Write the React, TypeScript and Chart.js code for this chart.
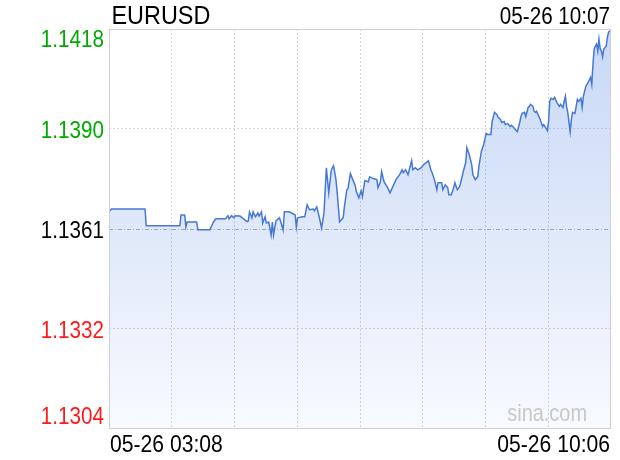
import React, { useEffect, useRef } from 'react';
import { Chart, registerables } from 'chart.js';

Chart.register(...registerables);

const symbolName = 'EURUSD';
const updateTime = '05-26 10:07';
const watermark = 'sina.com';

// minutes since 05-26 03:08
const minutes = [
  0, 2, 30, 31, 59, 60, 63, 64, 65, 73, 74, 84, 87, 89, 97, 99, 100, 102, 104, 105,
  109, 111, 115, 116, 117, 119, 120, 122, 124, 125, 127, 128, 130, 131, 133, 135, 136, 137, 139, 142,
  145, 146, 150, 155, 156, 157, 161, 163, 165, 167, 170, 171, 173, 175, 177, 179, 181, 183, 185, 186,
  187, 189, 190, 192, 195, 196, 198, 199, 201, 203, 205, 206, 208, 210, 211, 213, 216, 217, 220, 223,
  224, 226, 227, 229, 232, 234, 237, 239, 242, 244, 245, 247, 249, 252, 253, 255, 257, 260, 262, 266,
  268, 269, 271, 273, 274, 277, 278, 280, 282, 283, 285, 287, 288, 290, 292, 293, 295, 297, 298, 300,
  302, 303, 305, 307, 308, 310, 312, 314, 315, 318, 319, 321, 323, 324, 326, 327, 329, 330, 332, 334,
  335, 337, 339, 340, 342, 343, 344, 346, 347, 349, 350, 351, 353, 354, 355, 356, 358, 359, 361, 362,
  364, 365, 366, 367, 368, 370, 371, 373, 375, 376, 378, 379, 380, 381, 382, 384, 385, 386, 388, 389,
  390, 391, 393, 394, 395, 397, 398, 399, 401, 402, 403, 404, 405, 406, 407, 408, 409, 410, 411, 412,
  414, 415, 416, 418,
];

const prices = [
  1.13661, 1.13669, 1.13669, 1.13621, 1.13621, 1.13652, 1.13652, 1.13618, 1.13632, 1.13632,
  1.1361, 1.1361, 1.13632, 1.13641, 1.13641, 1.1365, 1.13641, 1.1365, 1.13644, 1.1365,
  1.13649, 1.13644, 1.13633, 1.13635, 1.13661, 1.13644, 1.13661, 1.13647, 1.13658, 1.13649,
  1.13661, 1.13629, 1.13647, 1.13629, 1.13632, 1.13595, 1.13632, 1.13595, 1.13635, 1.13644,
  1.13609, 1.13661, 1.13661, 1.13652, 1.13618, 1.13644, 1.13647, 1.13647, 1.13681, 1.13667,
  1.13669, 1.13664, 1.13675, 1.13647, 1.13615, 1.13658, 1.13787, 1.13715, 1.13778, 1.13787,
  1.13793, 1.13753, 1.13715, 1.13632, 1.13644, 1.13675, 1.13724, 1.13727, 1.1377, 1.13753,
  1.13736, 1.13718, 1.13701, 1.13721, 1.13704, 1.1375, 1.13747, 1.13761, 1.13756, 1.13753,
  1.1373, 1.13747, 1.13776, 1.13747, 1.1373, 1.13715, 1.13738, 1.13753, 1.13767, 1.13781,
  1.13773, 1.13781, 1.13767, 1.13807, 1.13781, 1.13787, 1.13781, 1.13787, 1.13796, 1.13807,
  1.13781, 1.13773, 1.13753, 1.13724, 1.13744, 1.13744, 1.13724, 1.13738, 1.1373, 1.1371,
  1.1371, 1.1373, 1.13744, 1.13724, 1.13733, 1.13747, 1.13776, 1.13801, 1.13844, 1.13824,
  1.13796, 1.13767, 1.13753, 1.13761, 1.1379, 1.13833, 1.13853, 1.13885, 1.13882, 1.13882,
  1.13919, 1.13945, 1.13939, 1.13931, 1.13925, 1.13916, 1.13919, 1.1391, 1.13913, 1.13905,
  1.13908, 1.13902, 1.13893, 1.1389, 1.13916, 1.13933, 1.13942, 1.13945, 1.13933, 1.13959,
  1.13962, 1.13968, 1.13962, 1.13948, 1.13945, 1.13948, 1.13933, 1.13925, 1.13905, 1.1391,
  1.13899, 1.13893, 1.13919, 1.13976, 1.13985, 1.13982, 1.13988, 1.13973, 1.13962, 1.13968,
  1.13959, 1.13976, 1.13991, 1.13962, 1.13945, 1.1389, 1.13925, 1.13945, 1.13942, 1.13962,
  1.13982, 1.13976, 1.13985, 1.13959, 1.13991, 1.14019, 1.14025, 1.14031, 1.14045, 1.14025,
  1.14083, 1.14126, 1.14134, 1.1414, 1.1412, 1.14154, 1.14126, 1.1412, 1.14103, 1.14126,
  1.14134, 1.1416, 1.14174, 1.1418,
];

const xTickLabels = ['05-26 03:08', '05-26 10:06'];
const xMinMinute = 0;
const xMaxMinute = 418;
const xGridDivisions = 8;

const yTickValues = [1.13041, 1.133265, 1.13612, 1.138975, 1.14183];
const yTickLabels = ['1.1304', '1.1332', '1.1361', '1.1390', '1.1418'];
const prevClose = 1.13612;

const FONT = "'Liberation Sans', Arial, sans-serif";

function drawNarrow(ctx: any, text: string, x: number, y: number, align: string, sx: number) {
  ctx.save();
  ctx.translate(x, y);
  ctx.scale(sx, 1);
  ctx.textAlign = align;
  ctx.textBaseline = 'alphabetic';
  ctx.fillText(text, 0, 0);
  ctx.restore();
}

const decorPlugin = {
  id: 'decor',
  beforeDatasetsDraw(chart: any) {
    const { ctx, chartArea } = chart;
    const yScale = chart.scales.y;
    const y = Math.round(yScale.getPixelForValue(prevClose)) + 0.5;
    ctx.save();
    ctx.strokeStyle = '#b0b0b0';
    ctx.lineWidth = 1;
    ctx.setLineDash([4, 2, 1, 2]);
    ctx.beginPath();
    ctx.moveTo(chartArea.left, y);
    ctx.lineTo(chartArea.right, y);
    ctx.stroke();
    ctx.restore();
  },
  afterDraw(chart: any) {
    const { ctx, chartArea } = chart;
    const yScale = chart.scales.y;
    const xScale = chart.scales.x;
    ctx.save();
    // frame
    ctx.strokeStyle = '#d0d0d0';
    ctx.lineWidth = 1;
    ctx.setLineDash([]);
    const l = Math.round(chartArea.left) + 0.5;
    const t = Math.round(chartArea.top) + 0.5;
    const r = Math.round(chartArea.right) - 0.5;
    const b = Math.round(chartArea.bottom) - 0.5;
    ctx.strokeRect(l, t, r - l, b - t);

    // y labels
    ctx.font = `24px ${FONT}`;
    yTickValues.forEach((v, i) => {
      const py = yScale.getPixelForValue(v);
      let ty = py + 8.5;
      ty = Math.max(chartArea.top + 17.5, Math.min(chartArea.bottom - 5, ty));
      ctx.fillStyle = v > prevClose + 1e-6 ? '#00aa00' : v < prevClose - 1e-6 ? '#ff1a1a' : '#000000';
      drawNarrow(ctx, yTickLabels[i], chartArea.left - 5, ty, 'right', 0.86);
    });

    // x labels (first and last tick)
    ctx.fillStyle = '#000000';
    ctx.font = `24px ${FONT}`;
    const xb = chartArea.bottom + 23;
    drawNarrow(ctx, xTickLabels[0], xScale.getPixelForValue(xMinMinute) + 1, xb, 'left', 0.88);
    drawNarrow(ctx, xTickLabels[1], xScale.getPixelForValue(xMaxMinute) - 1, xb, 'right', 0.88);

    // title and time
    ctx.font = `26px ${FONT}`;
    drawNarrow(ctx, symbolName, chartArea.left + 2.5, 23.5, 'left', 0.9);
    ctx.font = `24px ${FONT}`;
    drawNarrow(ctx, updateTime, chartArea.right - 1, 23.5, 'right', 0.86);

    // watermark
    ctx.fillStyle = '#c8c8c8';
    ctx.font = `24px ${FONT}`;
    drawNarrow(ctx, watermark, chartArea.right - 24, chartArea.bottom - 8, 'right', 0.83);
    ctx.restore();
  },
};

export default function App() {
  const canvasRef = useRef<HTMLCanvasElement | null>(null);

  useEffect(() => {
    document.body.style.margin = '0';
    const canvas = canvasRef.current;
    if (!canvas) return;
    const data = minutes.map((m, i) => ({ x: m, y: prices[i] }));
    const chart = new Chart(canvas, {
      type: 'line',
      data: {
        datasets: [
          {
            data,
            borderColor: '#4779d4',
            borderWidth: 1.5,
            pointRadius: 0,
            tension: 0,
            fill: 'start',
            backgroundColor: (c: any) => {
              const { chart: ch } = c;
              const area = ch.chartArea;
              if (!area) return 'rgba(70,125,220,0.15)';
              const g = ch.ctx.createLinearGradient(0, area.top, 0, area.bottom);
              g.addColorStop(0, 'rgba(70,125,225,0.3)');
              g.addColorStop(1, 'rgba(70,125,225,0.04)');
              return g;
            },
          },
        ],
      },
      options: {
        responsive: false,
        animation: false,
        events: [],
        layout: { padding: { left: 109, right: 9, top: 29, bottom: 31 } },
        plugins: {
          legend: { display: false },
          tooltip: { enabled: false },
          title: { display: false },
        },
        scales: {
          x: {
            type: 'linear',
            min: xMinMinute,
            max: xMaxMinute,
            afterBuildTicks: (axis: any) => {
              const step = (xMaxMinute - xMinMinute) / xGridDivisions;
              axis.ticks = Array.from({ length: xGridDivisions + 1 }, (_, i) => ({
                value: xMinMinute + i * step,
              }));
            },
            grid: {
              drawTicks: false,
              color: (c: any) =>
                c.index === 0 || c.index === xGridDivisions ? 'rgba(0,0,0,0)' : '#d4d4d4',
            },
            border: { display: false, dash: [2, 2] },
            ticks: { display: false },
          },
          y: {
            type: 'linear',
            min: yTickValues[0],
            max: yTickValues[yTickValues.length - 1],
            afterBuildTicks: (axis: any) => {
              axis.ticks = yTickValues.map((v) => ({ value: v }));
            },
            grid: {
              drawTicks: false,
              color: (c: any) => (c.index === 1 || c.index === 3 ? '#d8d8d8' : 'rgba(0,0,0,0)'),
            },
            border: { display: false, dash: [2, 2] },
            ticks: { display: false },
          },
        },
      },
      plugins: [decorPlugin],
    } as any);
    return () => chart.destroy();
  }, []);

  return (
    <div style={{ width: 620, height: 460 }}>
      <canvas ref={canvasRef} width={620} height={460} style={{ display: 'block' }} />
    </div>
  );
}
